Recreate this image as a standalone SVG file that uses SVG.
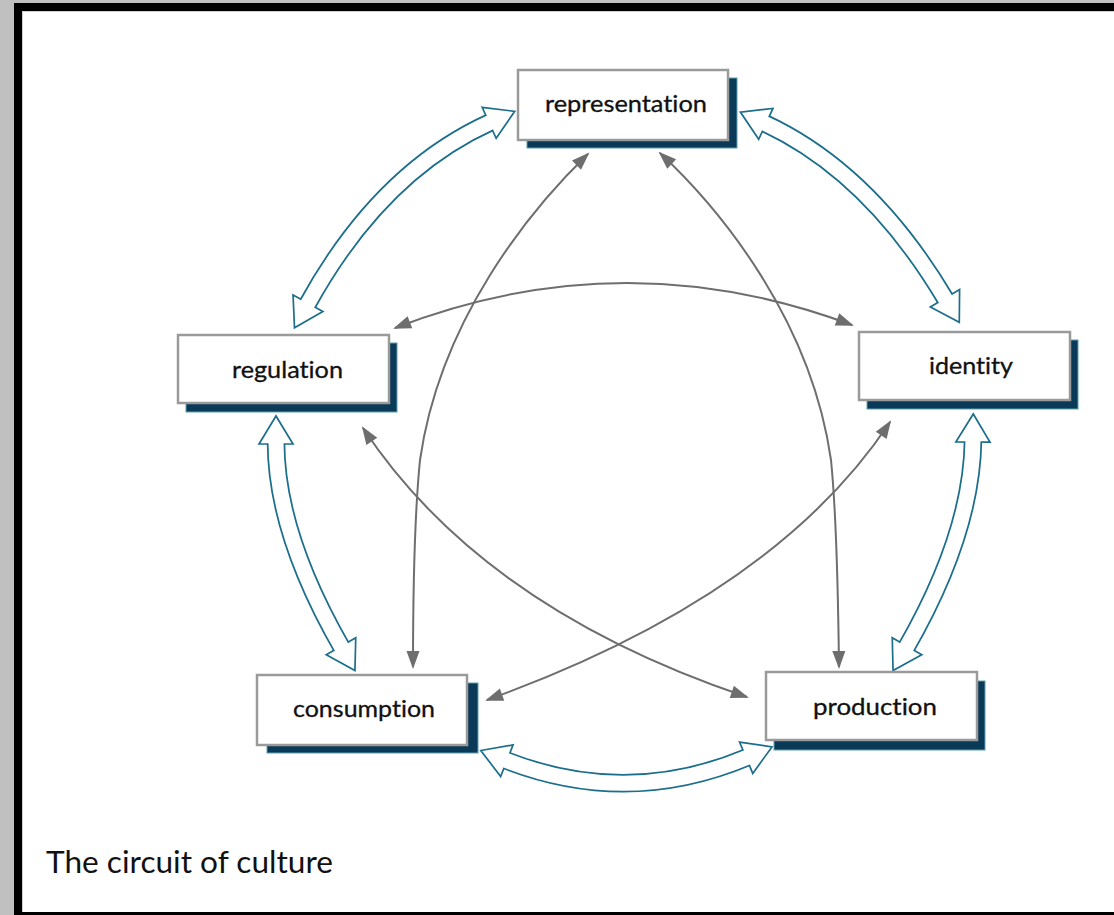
<svg xmlns="http://www.w3.org/2000/svg" width="1114" height="915" viewBox="0 0 1114 915">
<defs>
<style>
.shadow{fill:#0b3a58;stroke:#5d9fae;stroke-width:1}
.box{fill:#fff;stroke:#9a9a9a;stroke-width:2.5}
.label{font-family:Lato,"Liberation Sans",sans-serif;font-size:23px;fill:#111;font-variant-ligatures:none;font-feature-settings:"liga" 0,"clig" 0;stroke:#111;stroke-width:0.3}
.caption{font-family:Lato,"Liberation Sans",sans-serif;font-size:31px;fill:#111;font-variant-ligatures:none;font-feature-settings:"liga" 0,"clig" 0}
.hollow-out{fill:none;stroke:#1b6e8c;stroke-width:18.5;marker-start:url(#hh);marker-end:url(#hh)}
.hollow-in{fill:none;stroke:#fff;stroke-width:15}
.gray{fill:none;stroke:#6e6e6e;stroke-width:2;marker-start:url(#gh);marker-end:url(#gh)}
</style>
<marker id="hh" markerUnits="userSpaceOnUse" markerWidth="40" markerHeight="40" refX="2" refY="0" orient="auto-start-reverse" overflow="visible">
<path d="M0,-17 L28,0 L0,17 Z" fill="#fff" stroke="#1b6e8c" stroke-width="1.7" stroke-linejoin="miter"/>
</marker>
<marker id="gh" markerUnits="userSpaceOnUse" markerWidth="20" markerHeight="20" refX="16" refY="6.5" orient="auto-start-reverse" overflow="visible">
<path d="M0,0 L18,6.5 L0,13 Z" fill="#6e6e6e"/>
</marker>
</defs>
<rect x="0" y="0" width="1114" height="915" fill="#c0c0c0"/>
<rect x="14" y="3" width="1100" height="912" fill="#000"/>
<rect x="22" y="11" width="1092" height="901" fill="#fff"/>
<line x1="22" y1="11.5" x2="1114" y2="11.5" stroke="#d0d0d0" stroke-width="1"/>
<line x1="22.5" y1="11" x2="22.5" y2="912" stroke="#d0d0d0" stroke-width="1"/>

<g id="connectors">
  <g id="hollow-rep-reg">
    <path class="hollow-out" d="M307,305 Q380,172 491,122"/>
    <path class="hollow-in" d="M307,305 Q380,172 491,122"/>
  </g>
  <g id="hollow-rep-id">
    <path class="hollow-out" d="M946,300 Q870,172 764,123"/>
    <path class="hollow-in" d="M946,300 Q870,172 764,123"/>
  </g>
  <g id="hollow-reg-cons">
    <path class="hollow-out" d="M276,442 Q276,533 342,648"/>
    <path class="hollow-in" d="M276,442 Q276,533 342,648"/>
  </g>
  <g id="hollow-id-prod">
    <path class="hollow-out" d="M973,440 Q972,533 906,648"/>
    <path class="hollow-in" d="M973,440 Q972,533 906,648"/>
  </g>
  <g id="hollow-cons-prod">
    <path class="hollow-out" d="M505,760 Q627,808 748,757"/>
    <path class="hollow-in" d="M505,760 Q627,808 748,757"/>
  </g>
  <path id="gray-reg-id" class="gray" d="M395,328 Q623,239.5 852,325"/>
  <path id="gray-rep-cons" class="gray" d="M588,154 C530,210 440,320 420,460 C415,510 413,580 413,667"/>
  <path id="gray-rep-prod" class="gray" d="M660,153 C721,210 811,320 831,460 C836,510 838,580 839,667"/>
  <path id="gray-reg-prod" class="gray" d="M363,428 Q482,608 747,697"/>
  <path id="gray-id-cons" class="gray" d="M890,422 Q775,596 487,700"/>
</g>

<g id="node-representation">
  <rect class="shadow" x="527" y="78" width="210" height="70"/>
  <rect class="box" x="518" y="70" width="210" height="70"/>
  <text class="label" x="545" y="112" textLength="162" lengthAdjust="spacingAndGlyphs">representation</text>
</g>
<g id="node-regulation">
  <rect class="shadow" x="186" y="343" width="211" height="69"/>
  <rect class="box" x="178" y="335" width="211" height="68"/>
  <text class="label" x="232" y="378" textLength="111" lengthAdjust="spacingAndGlyphs">regulation</text>
</g>
<g id="node-identity">
  <rect class="shadow" x="867" y="340" width="211" height="69"/>
  <rect class="box" x="859" y="332" width="211" height="68"/>
  <text class="label" x="929" y="374" textLength="84" lengthAdjust="spacingAndGlyphs">identity</text>
</g>
<g id="node-consumption">
  <rect class="shadow" x="267" y="683" width="211" height="70"/>
  <rect class="box" x="257" y="675" width="210" height="70"/>
  <text class="label" x="293" y="717" textLength="142" lengthAdjust="spacingAndGlyphs">consumption</text>
</g>
<g id="node-production">
  <rect class="shadow" x="774" y="681" width="211" height="69"/>
  <rect class="box" x="766" y="672" width="211" height="68"/>
  <text class="label" x="813" y="715" textLength="124" lengthAdjust="spacingAndGlyphs">production</text>
</g>

<text class="caption" x="46" y="873" textLength="287" lengthAdjust="spacingAndGlyphs">The circuit of culture</text>
</svg>
